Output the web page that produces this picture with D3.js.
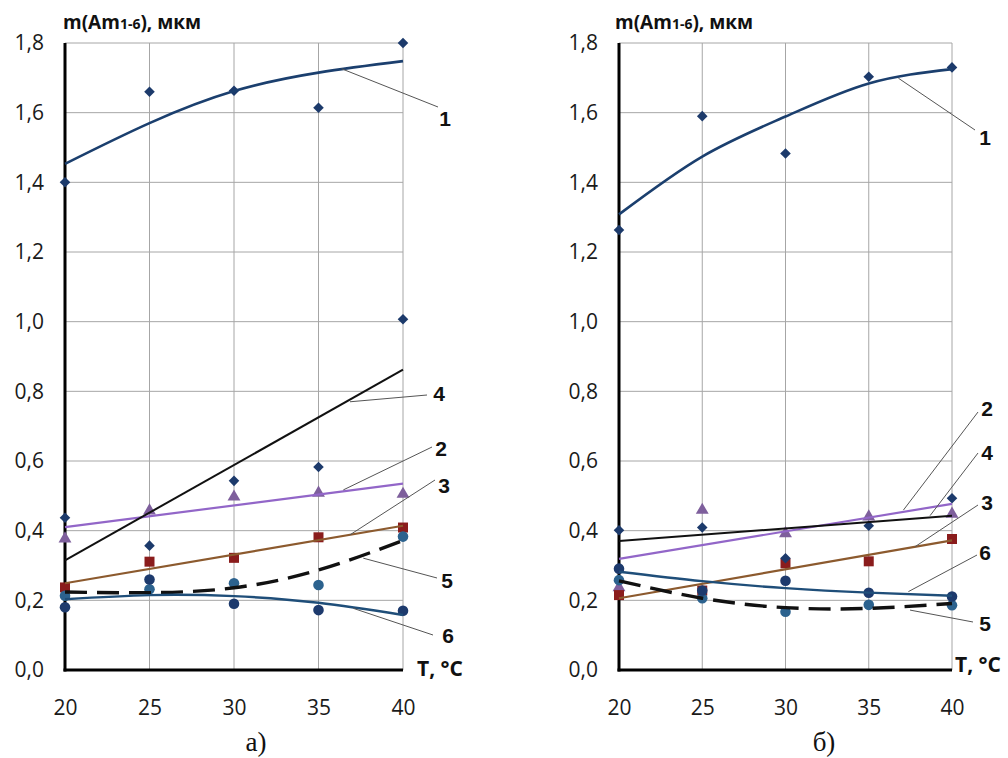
<!DOCTYPE html>
<html><head><meta charset="utf-8">
<script src="https://cdn.jsdelivr.net/npm/d3@7"></script>
<style>body{margin:0;background:#fff} svg{display:block}</style>
</head><body><svg id="c" width="1008" height="758"></svg>
<script>
// ---------- data ----------
const temps = [20, 25, 30, 35, 40];
const trendEnds = [20, 40];
const seriesNames = ["1", "2", "3", "4", "5", "6"];
const yTickValues = [0, 0.2, 0.4, 0.6, 0.8, 1.0, 1.2, 1.4, 1.6, 1.8];
const yTickLabels = ["0,0", "0,2", "0,4", "0,6", "0,8", "1,0", "1,2", "1,4", "1,6", "1,8"];
const xTickLabels = ["20", "25", "30", "35", "40"];
const yTitle = ["m(Am", "1-6", "), мкм"];
const xTitle = "T, °C";
const captions = ["а)", "б)"];

// panel а) measured points
const a1 = [1.40, 1.66, 1.663, 1.614, 1.80];
const a2 = [0.377, 0.457, 0.497, 0.508, 0.505];
const a3 = [0.237, 0.311, 0.322, 0.381, 0.409];
const a4 = [0.437, 0.357, 0.543, 0.583, 1.007];
const a5 = [0.213, 0.232, 0.249, 0.244, 0.383];
const a6 = [0.180, 0.260, 0.190, 0.172, 0.170];
// panel а) trend lines
const a1t = [1.453, 1.570, 1.662, 1.715, 1.748];
const a2t = [0.410, 0.535];
const a3t = [0.249, 0.414];
const a4t = [0.315, 0.862];
const a5t = [0.224, 0.222, 0.236, 0.287, 0.372];
const a6t = [0.203, 0.215, 0.212, 0.193, 0.158];

// panel б) measured points
const b1 = [1.263, 1.590, 1.483, 1.703, 1.730];
const b2 = [0.237, 0.459, 0.392, 0.440, 0.448];
const b3 = [0.215, 0.228, 0.306, 0.312, 0.376];
const b4 = [0.401, 0.409, 0.321, 0.414, 0.493];
const b5 = [0.258, 0.206, 0.167, 0.187, 0.186];
const b6 = [0.291, 0.228, 0.256, 0.222, 0.211];
// panel б) trend lines
const b1t = [1.308, 1.474, 1.589, 1.684, 1.725];
const b2t = [0.319, 0.477];
const b3t = [0.206, 0.372];
const b4t = [0.370, 0.443];
const b5t = [0.256, 0.206, 0.179, 0.177, 0.191];
const b6t = [0.282, 0.255, 0.235, 0.222, 0.213];

// ---------- styles ----------
const styles = {
  "1": {marker: "diamond", fill: "#1C3A6B", line: "#1B3F6E", width: 2.6, dash: null},
  "2": {marker: "triangle", fill: "#7E5F9C", line: "#9266C8", width: 2.2, dash: null},
  "3": {marker: "square", fill: "#8A1C1C", line: "#8C5A2E", width: 2.2, dash: null},
  "4": {marker: "diamond", fill: "#1C3A6B", line: "#111111", width: 2.0, dash: null},
  "5": {marker: "circle", fill: "#2C628E", line: "#111111", width: 3.4, dash: "22,10"},
  "6": {marker: "circle", fill: "#1D3A6D", line: "#1F4E79", width: 2.4, dash: null}
};

const panels = [
  {x0: 65, x1: 403, caption: captions[0], titleX: 63, xTitleX: 417, xTitleY: 676, capX: 256,
   pts: {"1": a1, "2": a2, "3": a3, "4": a4, "5": a5, "6": a6},
   trends: {"1": a1t, "2": a2t, "3": a3t, "4": a4t, "5": a5t, "6": a6t},
   notes: [
     {n: "1", at: [36.37, 1.726], end: [438, 107], txt: [445, 118]},
     {n: "4", at: [36.86, 0.770], end: [427, 395], txt: [439, 393]},
     {n: "2", at: [36.47, 0.517], end: [432, 447], txt: [441, 448]},
     {n: "3", at: [36.86, 0.388], end: [435, 480], txt: [444, 485]},
     {n: "5", at: [37.65, 0.321], end: [437, 578], txt: [447, 580]},
     {n: "6", at: [37.06, 0.177], end: [433, 635], txt: [448, 635]}
   ]},
  {x0: 619, x1: 952, caption: captions[1], titleX: 615, xTitleX: 955, xTitleY: 672, capX: 824,
   pts: {"1": b1, "2": b2, "3": b3, "4": b4, "5": b5, "6": b6},
   trends: {"1": b1t, "2": b2t, "3": b3t, "4": b4t, "5": b5t, "6": b6t},
   notes: [
     {n: "1", at: [36.78, 1.699], end: [975, 130], txt: [985, 137]},
     {n: "2", at: [37.08, 0.459], end: [978, 412], txt: [987, 408]},
     {n: "4", at: [38.68, 0.443], end: [978, 453], txt: [987, 452]},
     {n: "3", at: [37.78, 0.354], end: [978, 505], txt: [987, 502]},
     {n: "6", at: [37.38, 0.225], end: [977, 555], txt: [985, 552]},
     {n: "5", at: [37.48, 0.172], end: [973, 622], txt: [985, 623]}
   ]}
];

const svg = d3.select("#c");
const yTop = 43, yBot = 670;
const tickFont = "'Open Sans', 'Noto Sans', sans-serif";

function markerPath(type) {
  if (type === "diamond") return d3.symbol(d3.symbolSquare, 56)();
  if (type === "triangle") return d3.symbol(d3.symbolTriangle, 72)();
  if (type === "square") return d3.symbol(d3.symbolSquare, 100)();
  return d3.symbol(d3.symbolCircle, 88)();
}

panels.forEach(p => {
  const x = d3.scaleLinear().domain([20, 40]).range([p.x0, p.x1]);
  const y = d3.scaleLinear().domain([0, 1.8]).range([yBot, yTop]);
  const g = svg.append("g");

  // grid
  g.append("g").selectAll("line").data(yTickValues.slice(1)).join("line")
    .attr("x1", p.x0).attr("x2", p.x1).attr("y1", d => y(d)).attr("y2", d => y(d))
    .attr("stroke", "#a6a6a6").attr("stroke-width", 1);
  g.append("g").selectAll("line").data(temps.slice(1)).join("line")
    .attr("x1", d => x(d)).attr("x2", d => x(d)).attr("y1", yTop).attr("y2", yBot)
    .attr("stroke", "#a6a6a6").attr("stroke-width", 1);

  // axes via d3.axis (labels), then heavy axis lines
  const ya = d3.axisLeft(y).tickValues(yTickValues).tickFormat((d, i) => yTickLabels[i]).tickSize(0).tickPadding(21);
  const yg = g.append("g").attr("transform", `translate(${p.x0},0)`).call(ya);
  yg.select(".domain").remove();
  yg.selectAll("text").attr("font-family", tickFont).attr("font-size", 21).attr("fill", "#1a1a1a");

  const xa = d3.axisBottom(x).tickValues(temps).tickFormat((d, i) => xTickLabels[i]).tickSize(0).tickPadding(30);
  const xg = g.append("g").attr("transform", `translate(0,${yBot})`).call(xa);
  xg.select(".domain").remove();
  xg.selectAll("text").attr("font-family", tickFont).attr("font-size", 21).attr("fill", "#1a1a1a");

  g.append("line").attr("x1", p.x0).attr("x2", p.x0).attr("y1", yTop).attr("y2", yBot + 1.5)
    .attr("stroke", "#000").attr("stroke-width", 3);
  g.append("line").attr("x1", p.x0 - 1.5).attr("x2", p.x1).attr("y1", yBot).attr("y2", yBot)
    .attr("stroke", "#000").attr("stroke-width", 3);

  // markers
  seriesNames.forEach(n => {
    const st = styles[n];
    g.append("g").selectAll("path").data(p.pts[n]).join("path")
      .attr("d", markerPath(st.marker))
      .attr("transform", (d, i) => `translate(${x(temps[i])},${y(d)})` + (st.marker === "diamond" ? " rotate(45)" : ""))
      .attr("fill", st.fill);
  });

  // trend lines
  seriesNames.forEach(n => {
    const st = styles[n];
    const vals = p.trends[n];
    const xs = vals.length === 2 ? trendEnds : temps;
    const line = d3.line().x((d, i) => x(xs[i])).y(d => y(d)).curve(d3.curveNatural);
    g.append("path").attr("d", line(vals)).attr("fill", "none")
      .attr("stroke", st.line).attr("stroke-width", st.width)
      .attr("stroke-dasharray", st.dash);
  });

  // annotations
  p.notes.forEach(a => {
    g.append("line").attr("x1", x(a.at[0])).attr("y1", y(a.at[1]))
      .attr("x2", a.end[0]).attr("y2", a.end[1])
      .attr("stroke", "#555").attr("stroke-width", 1);
    g.append("text").attr("x", a.txt[0]).attr("y", a.txt[1] + 7.5)
      .attr("text-anchor", "middle")
      .attr("font-family", "'Liberation Sans Narrow', 'Liberation Sans', Arial, sans-serif")
      .attr("font-weight", "bold").attr("font-size", 21).attr("fill", "#111")
      .text(a.n);
  });

  // titles
  const t = g.append("text").attr("x", p.titleX).attr("y", 29)
    .attr("font-family", tickFont).attr("font-weight", "bold").attr("font-size", 19).attr("fill", "#111");
  t.append("tspan").text(yTitle[0]);
  t.append("tspan").attr("font-size", 14).text(yTitle[1]);
  t.append("tspan").text(yTitle[2]);

  g.append("text").attr("x", p.xTitleX).attr("y", p.xTitleY)
    .attr("font-family", tickFont).attr("font-weight", "bold").attr("font-size", 21).attr("fill", "#111")
    .text(xTitle);

  g.append("text").attr("x", p.capX).attr("y", 751).attr("text-anchor", "middle")
    .attr("font-family", "'Liberation Serif', 'Times New Roman', serif").attr("font-size", 27).attr("fill", "#111")
    .text(p.caption);
});
</script>
</body></html>
